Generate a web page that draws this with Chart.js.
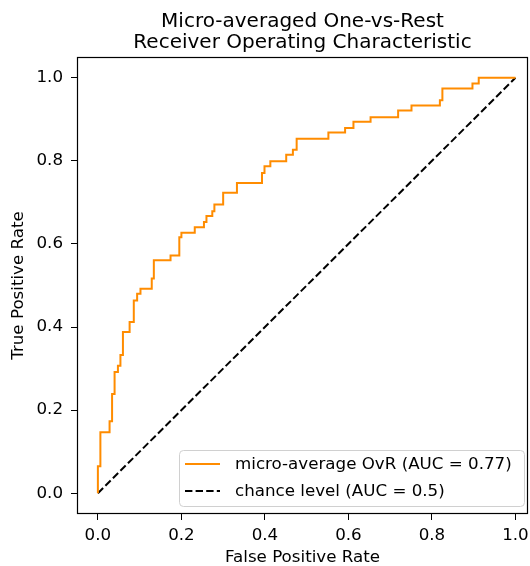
<!DOCTYPE html>
<html>
<head>
<meta charset="utf-8">
<script src="https://cdn.jsdelivr.net/npm/chart.js@4.4.1/dist/chart.umd.min.js"></script>
<style>
  html, body { margin: 0; padding: 0; background: #fff; }
  canvas { display: block; }
</style>
</head>
<body>
<canvas id="roc-chart" width="530" height="566"></canvas>
<script>
// ROC curve points (step corners)
const fpr = [0, 0.006, 0.028, 0.034, 0.040, 0.048, 0.054, 0.060, 0.076, 0.086, 0.094, 0.102,
  0.129, 0.134, 0.174, 0.195, 0.200, 0.232, 0.254, 0.260, 0.274, 0.279, 0.300, 0.333,
  0.393, 0.399, 0.413, 0.451, 0.467, 0.476, 0.552, 0.592, 0.612, 0.653, 0.719, 0.751,
  0.819, 0.825, 0.897, 0.912, 1.0];
const tpr = [0, 0.065, 0.147, 0.173, 0.239, 0.292, 0.307, 0.333, 0.388, 0.412, 0.464, 0.480,
  0.492, 0.517, 0.561, 0.572, 0.616, 0.627, 0.640, 0.653, 0.667, 0.679, 0.695, 0.723,
  0.747, 0.771, 0.787, 0.799, 0.815, 0.827, 0.853, 0.868, 0.879, 0.894, 0.905, 0.921,
  0.933, 0.946, 0.974, 0.986, 1.0];

// chance level diagonal
const chanceX = [0, 1];
const chanceY = [0, 1];

const xTicks = [0, 0.2, 0.4, 0.6, 0.8, 1.0];
const yTicks = [0, 0.2, 0.4, 0.6, 0.8, 1.0];

const titleLines = ['Micro-averaged One-vs-Rest', 'Receiver Operating Characteristic'];
const seriesLabels = ['micro-average OvR (AUC = 0.77)', 'chance level (AUC = 0.5)'];

const FONT = '"DejaVu Sans", sans-serif';
const TEXT_SIZE = 16.7;

// Draws the two line title centred over the plot area
const titlePlugin = {
    id: 'plotTitle',
    afterDraw(chart) {
        const { ctx, chartArea } = chart;
        const cx = (chartArea.left + chartArea.right) / 2;
        ctx.save();
        ctx.fillStyle = '#000';
        ctx.font = '20px ' + FONT;
        ctx.textAlign = 'center';
        ctx.textBaseline = 'alphabetic';
        ctx.fillText(titleLines[0], cx, 26.5);
        ctx.fillText(titleLines[1], cx, 47.5);
        ctx.restore();
    }
};

// Frame round the plot area (all four spines) and legend in lower right
const framePlugin = {
    id: 'frameAndLegend',
    afterDraw(chart) {
        const { ctx, chartArea } = chart;
        ctx.save();
        ctx.strokeStyle = '#000';
        ctx.lineWidth = 1.2;
        ctx.strokeRect(Math.round(chartArea.left) + 0.5, Math.round(chartArea.top) + 0.5,
            Math.round(chartArea.right - chartArea.left) - 1, Math.round(chartArea.bottom - chartArea.top) - 1);

        // legend box
        const bx = 179.5, by = 450.5, bw = 345, bh = 56;
        ctx.beginPath();
        ctx.roundRect(bx, by, bw, bh, 4);
        ctx.fillStyle = 'rgba(255,255,255,0.8)';
        ctx.fill();
        ctx.strokeStyle = '#d0d0d0';
        ctx.lineWidth = 1;
        ctx.stroke();

        ctx.font = TEXT_SIZE + 'px ' + FONT;
        ctx.textBaseline = 'middle';
        ctx.textAlign = 'left';
        chart.data.datasets.forEach((ds, i) => {
            const y = 464 + i * 27;
            ctx.beginPath();
            ctx.setLineDash(ds.borderDash || []);
            ctx.strokeStyle = ds.borderColor;
            ctx.lineWidth = ds.borderWidth;
            ctx.moveTo(185, y);
            ctx.lineTo(220, y);
            ctx.stroke();
            ctx.setLineDash([]);
            ctx.fillStyle = '#000';
            ctx.fillText(ds.label, 235, y + 1);
        });
        ctx.restore();
    }
};

// no extra room for overflowing edge labels, the plot box is fixed
function fixX(scale) {
    scale.height = 52;
    scale.paddingLeft = 0;
    scale.paddingRight = 0;
}
function fixY(scale) {
    scale.width = 77;
    scale.paddingTop = 0;
    scale.paddingBottom = 0;
}

const canvas = document.getElementById('roc-chart');
const ctx = canvas.getContext('2d');

new Chart(ctx, {
    type: 'line',
    data: {
        datasets: [{
            label: seriesLabels[0],
            data: fpr.map((x, i) => ({ x: x, y: tpr[i] })),
            borderColor: '#ff8c00',
            borderWidth: 2,
            pointRadius: 0,
            stepped: 'after',
            fill: false
        }, {
            label: seriesLabels[1],
            data: chanceX.map((x, i) => ({ x: x, y: chanceY[i] })),
            borderColor: '#000',
            borderWidth: 2,
            borderDash: [7.4, 3.2],
            pointRadius: 0,
            fill: false
        }]
    },
    options: {
        responsive: false,
        animation: false,
        devicePixelRatio: 1,
        layout: {
            padding: { top: 57, right: 2, left: 0, bottom: 0 }
        },
        plugins: {
            legend: { display: false },
            title: { display: false },
            tooltip: { enabled: false }
        },
        scales: {
            x: {
                type: 'linear',
                min: -0.05,
                max: 1.03,
                afterBuildTicks: scale => { scale.ticks = xTicks.map(v => ({ value: v })); },
                afterFit: fixX,
                grid: {
                    drawOnChartArea: false,
                    drawTicks: true,
                    tickLength: 6,
                    tickColor: '#000'
                },
                border: { display: false },
                ticks: {
                    color: '#000',
                    padding: 6,
                    maxRotation: 0,
                    font: { family: FONT, size: TEXT_SIZE },
                    callback: v => v.toFixed(1)
                },
                title: {
                    display: true,
                    text: 'False Positive Rate',
                    color: '#000',
                    padding: 0,
                    font: { family: FONT, size: TEXT_SIZE, lineHeight: 1 }
                }
            },
            y: {
                type: 'linear',
                min: -0.05,
                max: 1.05,
                afterBuildTicks: scale => { scale.ticks = yTicks.map(v => ({ value: v })); },
                afterFit: fixY,
                grid: {
                    drawOnChartArea: false,
                    drawTicks: true,
                    tickLength: 6,
                    tickColor: '#000'
                },
                border: { display: false },
                ticks: {
                    color: '#000',
                    padding: 8,
                    font: { family: FONT, size: TEXT_SIZE },
                    callback: v => v.toFixed(1)
                },
                title: {
                    display: true,
                    text: 'True Positive Rate',
                    color: '#000',
                    padding: { top: 10.5, bottom: 0 },
                    font: { family: FONT, size: TEXT_SIZE, lineHeight: 1 }
                }
            }
        }
    },
    plugins: [titlePlugin, framePlugin]
});
</script>
</body>
</html>
